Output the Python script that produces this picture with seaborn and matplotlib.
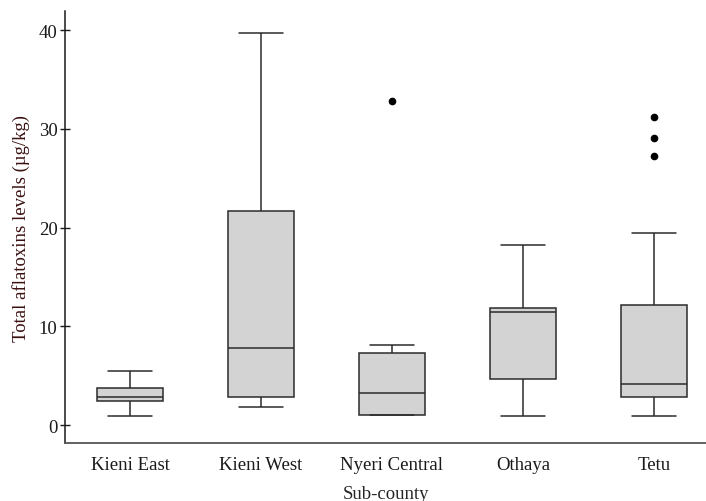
import matplotlib
matplotlib.use("Agg")
import matplotlib.pyplot as plt
import numpy as np
import pandas as pd
import seaborn as sns

# Summary statistics of total aflatoxin levels (µg/kg) per sub-county
subcounties = ["Kieni East", "Kieni West", "Nyeri Central", "Othaya", "Tetu"]
whisker_low = [0.94, 1.79, 1.05, 0.94, 0.94]
quartile1 = [2.43, 2.87, 1.05, 4.62, 2.87]
median = [2.84, 7.80, 3.20, 11.44, 4.12]
quartile3 = [3.72, 21.64, 7.29, 11.85, 12.15]
whisker_high = [5.44, 39.66, 8.07, 18.20, 19.44]
outliers = [[], [], [32.84], [], [27.2, 29.1, 31.2]]

# Rebuild a long-form table whose percentiles reproduce each summary exactly
rows = []
for i, name in enumerate(subcounties):
    k = len(outliers[i]) + 1
    vals = ([whisker_low[i]] + [quartile1[i]] * k + [median[i]] * k
            + [quartile3[i]] * k + [whisker_high[i]] + list(outliers[i]))
    rows += [(name, v) for v in vals]
df = pd.DataFrame(rows, columns=["Sub-county", "Total"])

sns.set_theme(style="white")
plt.rcParams["font.family"] = ["Liberation Serif", "DejaVu Serif"]
plt.rcParams["text.color"] = "#1a1a1a"

fig = plt.figure(figsize=(7.06, 5.02), dpi=100)
ax = fig.add_axes([0.0921, 0.1155, 0.9079, 0.8605])

line_kw = dict(color="#2b2b2b", linewidth=1.1)
sns.boxplot(
    data=df, x="Sub-county", y="Total", order=subcounties, ax=ax,
    color="#d3d3d3", width=0.5, whis=1.5, saturation=1,
    boxprops=dict(facecolor="#d3d3d3", edgecolor="#2b2b2b", linewidth=1.1),
    whiskerprops=line_kw, capprops=line_kw, medianprops=line_kw,
    flierprops=dict(marker="o", markerfacecolor="black", markeredgecolor="black",
                    markersize=4.5),
    capwidths=0.34,
)

ax.set_ylim(-1.82, 41.92)
ax.set_xlim(-0.496, 4.397)
ax.set_yticks([0, 10, 20, 30, 40])
ax.tick_params(axis="y", direction="inout", length=7, width=1, colors="#1a1a1a",
               labelsize=13.5, pad=2, left=True)
ax.tick_params(axis="x", length=0, labelsize=13.5, pad=9, colors="#1a1a1a")
for side in ["top", "right"]:
    ax.spines[side].set_visible(False)
ax.spines["left"].set_color("#1a1a1a")
ax.spines["bottom"].set_color("#555555")
ax.spines["left"].set_linewidth(1.1)
ax.spines["bottom"].set_linewidth(1.3)

ax.set_xlabel("Sub-county", fontsize=13.5, labelpad=9)
ax.set_ylabel("Total aflatoxins levels (µg/kg)", fontsize=13.5, labelpad=6,
              color="#3a1010")

fig.savefig("out.png", dpi=100)
